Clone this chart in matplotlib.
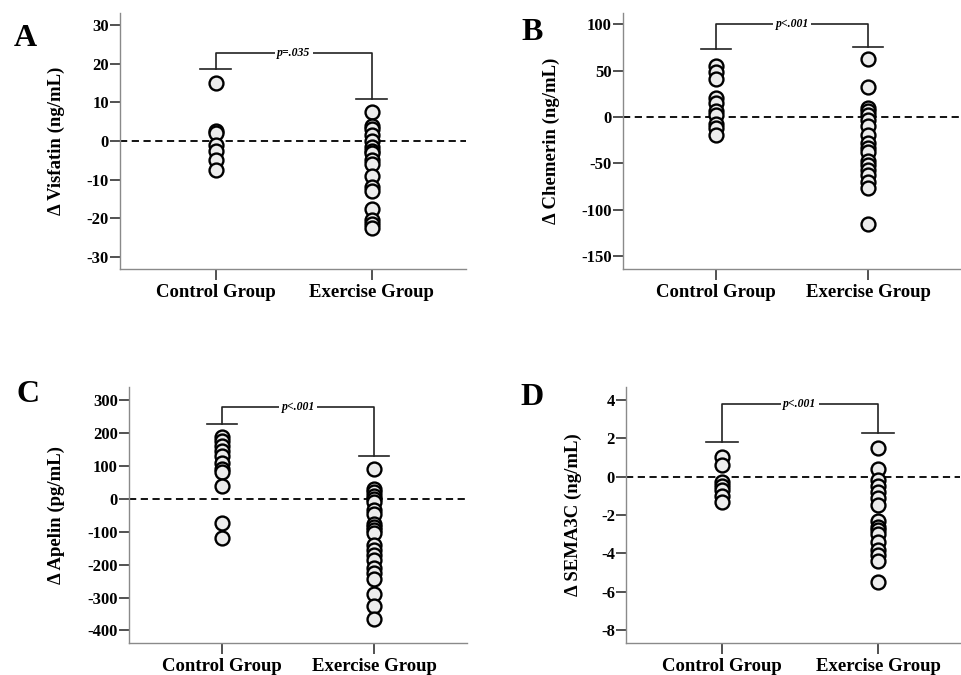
import matplotlib
matplotlib.use("Agg")
import matplotlib.pyplot as plt

plt.rcParams['font.family'] = ['Liberation Serif', 'DejaVu Serif']
plt.rcParams['font.weight'] = 'bold'

groups = ["Control Group", "Exercise Group"]

# A: change in visfatin (ng/mL)
visfatin_control = [15, 2.7, 2, -1, -2.5, -5, -7.5]
visfatin_exercise = [7.5, 4, 3, 1.5, 0, -1.5, -2.5, -3, -5, -6, -9, -12, -13,
                     -17.5, -20.5, -21.5, -22.5]

# B: change in chemerin (ng/mL)
chemerin_control = [55, 48, 41, 20, 15, 7, 2, -8, -12, -19]
chemerin_exercise = [62, 32, 10, 6, 2, -3, -10, -19, -28, -33, -38, -47, -52,
                     -57, -62, -70, -76, -115]

# C: change in apelin (pg/mL)
apelin_control = [187, 175, 160, 145, 130, 110, 90, 83, 40, -72, -118]
apelin_exercise = [90, 30, 20, 10, 0, -10, -35, -45, -75, -85, -95, -105, -140,
                   -155, -170, -185, -210, -225, -245, -290, -325, -365]

# D: change in SEMA3C (ng/mL)
sema_control = [1.0, 0.6, -0.3, -0.5, -0.7, -1.0, -1.3]
sema_exercise = [1.5, 0.4, -0.2, -0.5, -0.8, -1.1, -1.5, -2.3, -2.6, -2.8, -3.0,
                 -3.4, -3.8, -4.1, -4.4, -5.5]

# bracket heights: control cap, exercise cap, top line
brackets = {
	"A": (18.7, 10.8, 22.8, "p=.035"),
	"B": (73.5, 75.2, 100.4, "p<.001"),
	"C": (228, 131, 280, "p<.001"),
	"D": (1.79, 2.28, 3.75, "p<.001"),
}

W, H = 961, 675
fig = plt.figure(figsize=(W / 100, H / 100), dpi=100)

panels = [
	# letter, control, exercise, ylabel, yticks, ylim, rect px (l, t, r, b), xlim, label x, letter pos
	("A", visfatin_control, visfatin_exercise, "\u0394 Visfatin (ng/mL)",
	 [-30, -20, -10, 0, 10, 20, 30], (-33.1, 33.1), (120, 13, 466, 269), (-0.614, 1.603), -0.159, (25, 38)),
	("B", chemerin_control, chemerin_exercise, "\u0394 Chemerin (ng/mL)",
	 [-150, -100, -50, 0, 50, 100], (-163.6, 112), (623, 13, 960, 269), (-0.612, 1.605), -0.187, (532, 33)),
	("C", apelin_control, apelin_exercise, "\u0394 Apelin (pg/mL)",
	 [-400, -300, -200, -100, 0, 100, 200, 300], (-438, 340), (129, 387, 467, 643), (-0.612, 1.612), -0.189, (28, 395)),
	("D", sema_control, sema_exercise, "\u0394 SEMA3C (ng/mL)",
	 [-8, -6, -4, -2, 0, 2, 4], (-8.65, 4.65), (626, 387, 960, 643), (-0.615, 1.526), -0.133, (532, 397)),
]

for letter, ctrl, exer, ylabel, yticks, ylim, rect, xlim, labx, lpos in panels:
	l, t, r, b = rect
	ax = fig.add_axes([l / W, 1 - b / H, (r - l) / W, (b - t) / H])

	ax.axhline(0, color="black", lw=1.3, linestyle=(0, (4, 2.5)), zorder=1)

	for xi, vals in enumerate([ctrl, exer]):
		ax.plot([xi] * len(vals), vals, linestyle="none", marker="o", ms=10,
		        mfc="#ececec", mec="black", mew=1.7, zorder=3)

	c_cap, e_cap, top, ptxt = brackets[letter]
	bk = dict(color="#222222", lw=1.2, zorder=2, clip_on=False)
	ax.plot([-0.1, 0.1], [c_cap, c_cap], **bk)
	ax.plot([0.9, 1.1], [e_cap, e_cap], **bk)
	ax.plot([0, 0, 1, 1], [c_cap, top, top, e_cap], **bk)
	ax.text(0.5, top, ptxt, ha="center", va="center", fontsize=8.5, style="italic",
	        fontweight="bold", zorder=4,
	        bbox=dict(facecolor="white", edgecolor="none", pad=1.5))

	ax.set_xlim(*xlim)
	ax.set_ylim(*ylim)
	ax.set_xticks([0, 1])
	ax.set_xticklabels(groups, fontsize=13.5, fontweight="bold")
	ax.set_yticks(yticks)
	ax.set_yticklabels([str(v) for v in yticks], fontsize=12, fontweight="bold")
	ax.set_ylabel(ylabel, fontsize=13.5, fontweight="bold")
	ax.yaxis.set_label_coords(labx, 0.5)

	for side in ["top", "right"]:
		ax.spines[side].set_visible(False)
	for side in ["left", "bottom"]:
		ax.spines[side].set_color("#8a8a8a")
		ax.spines[side].set_linewidth(1.0)
	ax.tick_params(axis="y", length=7, width=1.2, color="#333333", pad=1)
	ax.tick_params(axis="x", length=8, width=1.2, color="#333333", pad=3)

	fig.text(lpos[0] / W, 1 - lpos[1] / H, letter, fontsize=23, fontweight="bold",
	         ha="center", va="center")

fig.savefig("out.png", dpi=100)
